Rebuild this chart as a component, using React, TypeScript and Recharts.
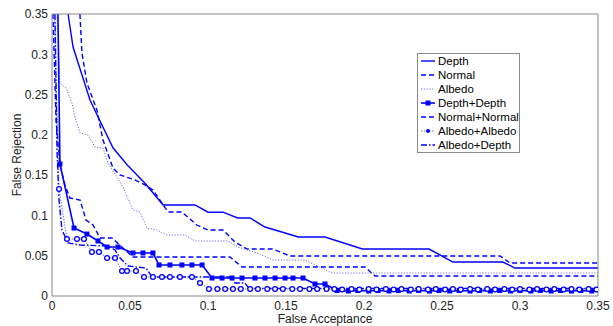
import { LineChart, Line, XAxis, YAxis, Legend } from "recharts"

type Pt = [number, number]

const xTicks = [0, 0.05, 0.1, 0.15, 0.2, 0.25, 0.3, 0.35]
const yTicks = [0, 0.05, 0.1, 0.15, 0.2, 0.25, 0.3, 0.35]

const depth: Pt[] = [
  [0.0103, 0.35], [0.0135, 0.309], [0.0244, 0.243], [0.0391, 0.184], [0.0481, 0.163],
  [0.0596, 0.14], [0.0712, 0.113], [0.0917, 0.113], [0.1, 0.104], [0.1096, 0.104],
  [0.119, 0.0968], [0.127, 0.0968], [0.1365, 0.0856], [0.158, 0.0732], [0.175, 0.0732],
  [0.199, 0.0583], [0.2417, 0.0583], [0.257, 0.0422], [0.289, 0.0422], [0.2968, 0.0347],
  [0.35, 0.0347],
]

const normal: Pt[] = [
  [0.0179, 0.35], [0.0192, 0.3016], [0.0224, 0.2643], [0.0288, 0.2308], [0.0327, 0.1936],
  [0.0391, 0.1588], [0.0436, 0.1502], [0.0532, 0.144], [0.0596, 0.1378], [0.0647, 0.1315],
  [0.0692, 0.119], [0.0744, 0.1042], [0.0833, 0.1042], [0.0929, 0.0881], [0.1, 0.0819],
  [0.1096, 0.0819], [0.1173, 0.067], [0.125, 0.0583], [0.1417, 0.0583], [0.1526, 0.0496],
  [0.2872, 0.0496], [0.2936, 0.041], [0.35, 0.041],
]

const albedo: Pt[] = [
  [0.0032, 0.35], [0.0051, 0.2643], [0.009, 0.258], [0.0128, 0.2395], [0.0147, 0.222],
  [0.018, 0.2023], [0.0231, 0.1998], [0.0276, 0.1849], [0.0327, 0.1837], [0.0359, 0.165],
  [0.0417, 0.1477], [0.0455, 0.1353], [0.0519, 0.1067], [0.0564, 0.1042], [0.0609, 0.0844],
  [0.0673, 0.0819], [0.0737, 0.0757], [0.0853, 0.0757], [0.0917, 0.0683], [0.1128, 0.0683],
  [0.1192, 0.0608], [0.1314, 0.0534], [0.1417, 0.0447], [0.1622, 0.0447], [0.1795, 0.0285],
  [0.35, 0.0285],
]

const depthDepth: Pt[] = [
  [0.0036, 0.38], [0.0051, 0.1638], [0.0141, 0.0844], [0.0224, 0.0769],
  [0.0295, 0.0683], [0.0353, 0.0608], [0.0423, 0.0608], [0.0519, 0.0534], [0.0583, 0.0534],
  [0.0647, 0.0534], [0.0686, 0.0385], [0.0756, 0.0385], [0.0833, 0.0385], [0.0897, 0.0385],
  [0.0962, 0.0385], [0.1026, 0.0223], [0.109, 0.0223], [0.1154, 0.0223], [0.1218, 0.0223],
  [0.1301, 0.0223], [0.1365, 0.0223], [0.143, 0.0223], [0.1494, 0.0223], [0.1545, 0.0223],
  [0.1609, 0.0223], [0.1686, 0.0149], [0.175, 0.0149], [0.1827, 0.0068], [0.19, 0.0062],
  [0.196, 0.0068], [0.203, 0.0062], [0.209, 0.0068], [0.216, 0.0062], [0.222, 0.0068],
  [0.229, 0.0062], [0.235, 0.0068], [0.242, 0.0062], [0.248, 0.0068], [0.255, 0.0062],
  [0.261, 0.0068], [0.268, 0.0062], [0.274, 0.0068], [0.281, 0.0062], [0.287, 0.0068],
  [0.294, 0.0062], [0.3, 0.0068], [0.307, 0.0062], [0.313, 0.0068], [0.32, 0.0062],
  [0.326, 0.0068], [0.333, 0.0062], [0.339, 0.0068], [0.346, 0.0062],
]

const normalNormal: Pt[] = [
  [0.0006, 0.35], [0.0026, 0.218], [0.0051, 0.1626], [0.0083, 0.1378], [0.0115, 0.1216],
  [0.018, 0.119], [0.0218, 0.0943], [0.0263, 0.0881], [0.0308, 0.072], [0.0385, 0.072],
  [0.0455, 0.0596], [0.0519, 0.0484], [0.1141, 0.0484], [0.1218, 0.036], [0.2006, 0.036],
  [0.2071, 0.0248], [0.35, 0.0248],
]

const albedoAlbedo: Pt[] = [
  [0.0012, 0.38], [0.0045, 0.1328], [0.0096, 0.0707], [0.016, 0.0707],
  [0.0205, 0.0707], [0.0256, 0.0546], [0.0301, 0.0546], [0.0353, 0.0472], [0.0404, 0.0472],
  [0.0449, 0.031], [0.0481, 0.031], [0.0538, 0.031], [0.059, 0.0236], [0.0647, 0.0236],
  [0.0705, 0.0236], [0.0756, 0.0236], [0.082, 0.0236], [0.0897, 0.0236], [0.0949, 0.0161],
  [0.1006, 0.0087], [0.106, 0.0087], [0.111, 0.0087], [0.116, 0.0087], [0.121, 0.0087],
  [0.127, 0.0087], [0.132, 0.0087], [0.138, 0.0087], [0.143, 0.0087], [0.148, 0.0087],
  [0.154, 0.0087], [0.159, 0.0087], [0.165, 0.0087], [0.17, 0.0087], [0.176, 0.0087],
  [0.181, 0.0087], [0.186, 0.008], [0.192, 0.0087], [0.197, 0.008], [0.203, 0.0087],
  [0.208, 0.008], [0.214, 0.0087], [0.219, 0.008], [0.224, 0.0087], [0.23, 0.008],
  [0.235, 0.0087], [0.241, 0.008], [0.246, 0.0087], [0.252, 0.008], [0.257, 0.0087],
  [0.262, 0.008], [0.268, 0.0087], [0.273, 0.008], [0.279, 0.0087], [0.284, 0.008],
  [0.29, 0.0087], [0.295, 0.008], [0.3, 0.0087], [0.306, 0.008], [0.311, 0.0087],
  [0.317, 0.008], [0.322, 0.0087], [0.328, 0.008], [0.333, 0.0087], [0.338, 0.008],
  [0.344, 0.0087], [0.349, 0.008],
]

const albedoDepth: Pt[] = [
  [0.0019, 0.35], [0.0032, 0.181], [0.0045, 0.119], [0.0064, 0.0819], [0.0103, 0.0658],
  [0.018, 0.0633], [0.0359, 0.062], [0.0404, 0.0571], [0.0436, 0.0472], [0.0487, 0.0372],
  [0.0603, 0.0347], [0.0641, 0.0236], [0.1154, 0.0236], [0.1173, 0.0161], [0.1237, 0.0161],
  [0.1263, 0.0095], [0.35, 0.0095],
]

const BLUE = "#0000ff"

const toRows = (pts: Pt[]) => pts.map(([x, y]) => ({ x, y }))

const squareDot = (p: any) => (
  <rect key={`sq-${p.index}`} x={p.cx - 2.5} y={p.cy - 2.5} width={5} height={5} fill={BLUE} />
)
const circleDot = (p: any) => (
  <circle key={`ci-${p.index}`} cx={p.cx} cy={p.cy} r={2.4} fill="#fff" stroke={BLUE} strokeWidth={1.3} />
)

const series = [
  { name: "Depth", data: depth, dash: undefined, color: BLUE, width: 1.4, dot: false as any },
  { name: "Normal", data: normal, dash: "5 3", color: BLUE, width: 1.4, dot: false as any },
  { name: "Albedo", data: albedo, dash: "1.2 1.6", color: "#6b6be8", width: 1, dot: false as any },
  { name: "Depth+Depth", data: depthDepth, dash: undefined, color: BLUE, width: 1.6, dot: squareDot },
  { name: "Normal+Normal", data: normalNormal, dash: "5 3", color: BLUE, width: 1.4, dot: false as any },
  { name: "Albedo+Albedo", data: albedoAlbedo, dash: "1.2 1.6", color: "#5555ee", width: 1, dot: circleDot },
  { name: "Albedo+Depth", data: albedoDepth, dash: "6 2 1.5 2", color: BLUE, width: 1.4, dot: false as any },
]

const fmt = (v: number) => String(+v.toFixed(2))

function LegendBox() {
  return (
    <div
      style={{
        border: "1px solid #8a8a8a",
        background: "#fff",
        width: 101,
        padding: "0",
        fontFamily: "Liberation Sans, Arial, sans-serif",
        fontSize: 11.5,
        color: "#000",
      }}
    >
      {series.map((s) => (
        <div key={s.name} style={{ display: "flex", alignItems: "center", height: 14, whiteSpace: "nowrap" }}>
          <svg width={19} height={14} style={{ flex: "none" }}>
            <line
              x1={3}
              x2={17}
              y1={7}
              y2={7}
              stroke={s.color}
              strokeWidth={s.width}
              strokeDasharray={s.dash}
            />
            {s.name === "Depth+Depth" && <rect x={7.5} y={4.5} width={5} height={5} fill={BLUE} />}
            {s.name === "Albedo+Albedo" && <circle cx={10} cy={7} r={2} fill={BLUE} />}
          </svg>
          <span style={{ marginLeft: 1 }}>{s.name}</span>
        </div>
      ))}
    </div>
  )
}

export default function App() {
  return (
    <div style={{ position: "absolute", left: 0, top: 0, width: 613, height: 326, background: "#fff" }}>
      <LineChart
        width={613}
        height={326}
        margin={{ top: 14, right: 15, bottom: 0, left: 12 }}
        style={{ fontFamily: "Liberation Sans, Arial, sans-serif" }}
      >
        <XAxis
          dataKey="x"
          type="number"
          domain={[0, 0.35]}
          ticks={xTicks}
          allowDataOverflow
          tickFormatter={fmt}
          height={30}
          tickLine={false}
          tickSize={3}
          tickMargin={2}
          stroke="#888"
          tick={{ fontSize: 12, fill: "#222" }}
          label={{ value: "False Acceptance", position: "insideBottom", offset: 3, fontSize: 12, fill: "#222" }}
        />
        <YAxis
          type="number"
          domain={[0, 0.35]}
          ticks={yTicks}
          allowDataOverflow
          tickFormatter={fmt}
          width={40}
          tickLine={false}
          tickSize={2}
          tickMargin={2}
          stroke="#888"
          tick={{ fontSize: 12, fill: "#222" }}
          label={{
            value: "False Rejection",
            angle: -90,
            position: "insideLeft",
            offset: 5,
            fontSize: 12,
            fill: "#222",
            style: { textAnchor: "middle" },
          }}
        />
        <XAxis xAxisId="bm" type="number" domain={[0, 0.35]} ticks={xTicks} allowDataOverflow mirror tick={false} tickSize={5} stroke="#888" axisLine={false} />
        <XAxis xAxisId="top" orientation="top" type="number" domain={[0, 0.35]} ticks={xTicks} allowDataOverflow mirror tick={false} tickSize={5} stroke="#888" />
        <YAxis yAxisId="lm" type="number" domain={[0, 0.35]} ticks={yTicks} allowDataOverflow mirror tick={false} tickSize={5} stroke="#888" axisLine={false} />
        <YAxis yAxisId="right" orientation="right" type="number" domain={[0, 0.35]} ticks={yTicks} allowDataOverflow mirror tick={false} tickSize={5} stroke="#888" />
        {series.map((s) => (
          <Line
            key={s.name}
            name={s.name}
            data={toRows(s.data)}
            dataKey="y"
            type="linear"
            stroke={s.color}
            strokeWidth={s.width}
            strokeDasharray={s.dash}
            dot={s.dot}
            activeDot={false}
            isAnimationActive={false}
          />
        ))}
        <Legend
          layout="vertical"
          align="center"
          verticalAlign="middle"
          content={() => <LegendBox />}
          wrapperStyle={{ left: 417, top: 53, width: 103 }}
        />
      </LineChart>
    </div>
  )
}
